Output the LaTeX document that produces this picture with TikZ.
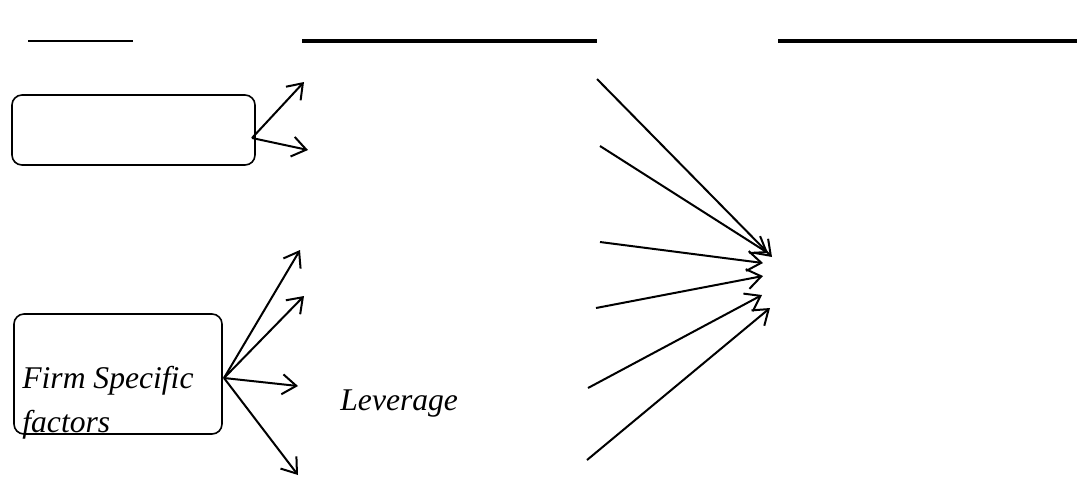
\documentclass[tikz,border=0pt]{standalone}
\usepackage{fontspec}
\setmainfont{Liberation Serif}
\usetikzlibrary{arrows.meta,positioning}
\tikzset{
  fsbox/.style={
    draw=black,
    line width=0.8pt,
    rounded corners=5pt,
    inner sep=0pt
  },
  fslabel/.style={font=\fontsize{15.8}{22}\selectfont\itshape, inner sep=0pt, align=left},
  fsflow/.style={-{Straight Barb[length=7pt,width=10pt]}, line width=1pt},
  fsrule/.style={line width=1pt},
  fsrulethick/.style={line width=2pt}
}
\begin{document}
\begin{tikzpicture}[x=0.5pt,y=-0.5pt]
  \useasboundingbox (0,0) rectangle (1077,479);
  % rules along the top
  \coordinate (r1a) at (28,41);  \coordinate (r1b) at (133,41);
  \coordinate (r2a) at (302,41); \coordinate (r2b) at (597,41);
  \coordinate (r3a) at (778,41); \coordinate (r3b) at (1077,41);
  \draw[fsrule] (r1a) -- (r1b);
  \draw[fsrulethick] (r2a) -- (r2b);
  \draw[fsrulethick] (r3a) -- (r3b);
  % boxes
  \node[fsbox, minimum width=121.5pt, minimum height=35pt] (macro) at (133.5,130) {};
  \node[fsbox, minimum width=104pt, minimum height=60pt] (firm) at (118,374) {};
  \node[fslabel, anchor=base west] (firmtext) at (22,432) {Firm Specific\\factors};
  \node[fslabel, anchor=base west] (lev) at (340,410) {Leverage};
  % arrows out of the boxes
  \coordinate (mo) at (252,138);
  \coordinate (m1) at (304,82);
  \coordinate (m2) at (308,150);
  \coordinate (fo) at (224,378);
  \coordinate (f1) at (300,250);
  \coordinate (f2) at (304,296);
  \coordinate (f3) at (298,386);
  \coordinate (f4) at (298,475);
  \draw[fsflow] (mo) -- (m1);
  \draw[fsflow] (mo) -- (m2);
  \draw[fsflow] (fo) -- (f1);
  \draw[fsflow] (fo) -- (f2);
  \draw[fsflow] (fo) -- (f3);
  \draw[fsflow] (fo) -- (f4);
  % arrows into the right
  \coordinate (t1) at (597,79);  \coordinate (h1) at (772,257);
  \coordinate (t2) at (600,146); \coordinate (h2) at (768,253);
  \coordinate (t3) at (600,242); \coordinate (h3) at (763,263);
  \coordinate (t4) at (596,308); \coordinate (h4) at (763,276);
  \coordinate (t5) at (588,388); \coordinate (h5) at (762,295);
  \coordinate (t6) at (587,460); \coordinate (h6) at (770,308);
  \draw[fsflow] (t1) -- (h1);
  \draw[fsflow] (t2) -- (h2);
  \draw[fsflow] (t3) -- (h3);
  \draw[fsflow] (t4) -- (h4);
  \draw[fsflow] (t5) -- (h5);
  \draw[fsflow] (t6) -- (h6);
\end{tikzpicture}
\end{document}
